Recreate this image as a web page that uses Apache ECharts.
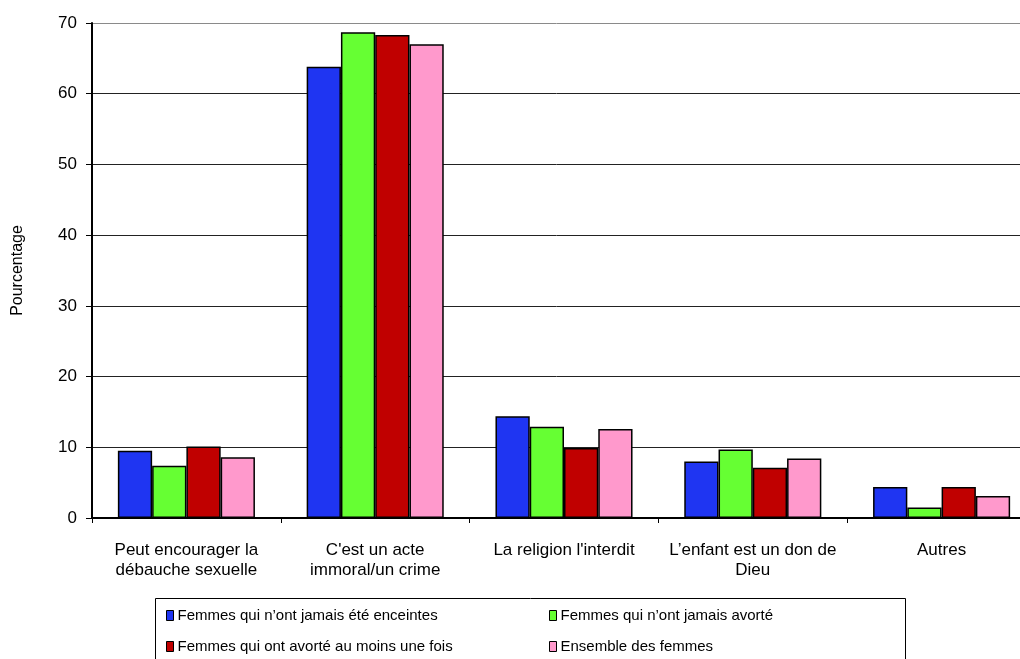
<!DOCTYPE html>
<html>
<head>
<meta charset="utf-8">
<script src="https://cdn.jsdelivr.net/npm/echarts@6/dist/echarts.min.js"></script>
<style>
  html, body { margin: 0; padding: 0; background: #fff; overflow: hidden; }
  #chart { width: 1020px; height: 659px; }
</style>
</head>
<body>
<div id="chart"></div>
<script>
// Reasons given against abortion, by group of women (%)
const categories = [
  "Peut encourager la\ndébauche sexuelle",
  "C'est un acte\nimmoral/un crime",
  "La religion l'interdit",
  "L’enfant est un don de\nDieu",
  "Autres"
];
const seriesNames = [
  "Femmes qui n’ont jamais été enceintes",
  "Femmes qui n’ont jamais avorté",
  "Femmes qui ont avorté au moins une fois",
  "Ensemble des femmes"
];
const jamaisEnceintes = [9.5, 63.8, 14.4, 8.0, 4.4];
const jamaisAvorte = [7.4, 68.7, 12.9, 9.7, 1.5];
const avorteUneFois = [10.1, 68.3, 9.9, 7.1, 4.4];
const ensemble = [8.6, 67.0, 12.6, 8.4, 3.1];
const yTicks = [0, 10, 20, 30, 40, 50, 60, 70];

const colors = ['#1F35F2', '#66FF33', '#C00000', '#FF99CC'];
const values = [jamaisEnceintes, jamaisAvorte, avorteUneFois, ensemble];
const font = 'Liberation Sans, Arial, sans-serif';

const chart = echarts.init(document.getElementById('chart'));

// One legend per entry so the two columns line up inside the framed box
const legendSlots = [
  { left: 166, top: 608 },
  { left: 549, top: 608 },
  { left: 166, top: 639 },
  { left: 549, top: 639 }
];
const legends = seriesNames.map((name, i) => ({
  left: legendSlots[i].left,
  top: legendSlots[i].top,
  data: [name],
  itemWidth: 7,
  itemHeight: 10,
  itemGap: 0,
  icon: 'rect',
  padding: 0,
  textStyle: { fontFamily: font, fontSize: 15, color: '#000', padding: [0, 0, 0, -1] },
  itemStyle: { borderColor: '#000', borderWidth: 1 }
}));

// Gridlines are dark; the top one (70) is a lighter grey
const gridColors = yTicks.map(v => (v === 70 ? '#8a8a8a' : '#222'));

chart.setOption({
  animation: false,
  backgroundColor: '#fff',
  color: colors,
  // plot area runs past the right edge of the canvas
  grid: { left: 92, right: -16, top: 23, bottom: 141, outerBoundsMode: 'none', containLabel: false },
  graphic: [{
    type: 'rect',
    shape: { x: 155.5, y: 598.5, width: 750, height: 80 },
    style: { fill: 'none', stroke: '#000', lineWidth: 1 },
    z: 0
  }],
  legend: legends,
  xAxis: {
    type: 'category',
    data: categories,
    axisLine: { lineStyle: { color: '#000', width: 2 } },
    axisTick: { show: true, length: 5, lineStyle: { color: '#000' } },
    axisLabel: {
      fontFamily: font, fontSize: 17, color: '#000',
      margin: 22, lineHeight: 20, interval: 0
    }
  },
  yAxis: {
    type: 'value',
    min: 0, max: 70, interval: 10,
    name: 'Pourcentage',
    nameLocation: 'middle',
    nameGap: 66,
    nameRotate: 90,
    nameTextStyle: { fontFamily: font, fontSize: 16, color: '#000' },
    axisLine: { show: true, lineStyle: { color: '#000', width: 2 } },
    axisTick: { show: true, length: 6, lineStyle: { color: '#000' } },
    axisLabel: {
      fontFamily: font, fontSize: 17, color: '#000', margin: 15,
      formatter: v => (yTicks.includes(v) ? String(v) : '')
    },
    splitLine: { show: true, lineStyle: { color: gridColors, width: 1 } }
  },
  series: values.map((data, i) => ({
    name: seriesNames[i],
    type: 'bar',
    data: data,
    barGap: '0%',
    barCategoryGap: '27.4%',
    itemStyle: { color: colors[i], borderColor: '#000', borderWidth: 1.5 }
  }))
});
</script>
</body>
</html>
